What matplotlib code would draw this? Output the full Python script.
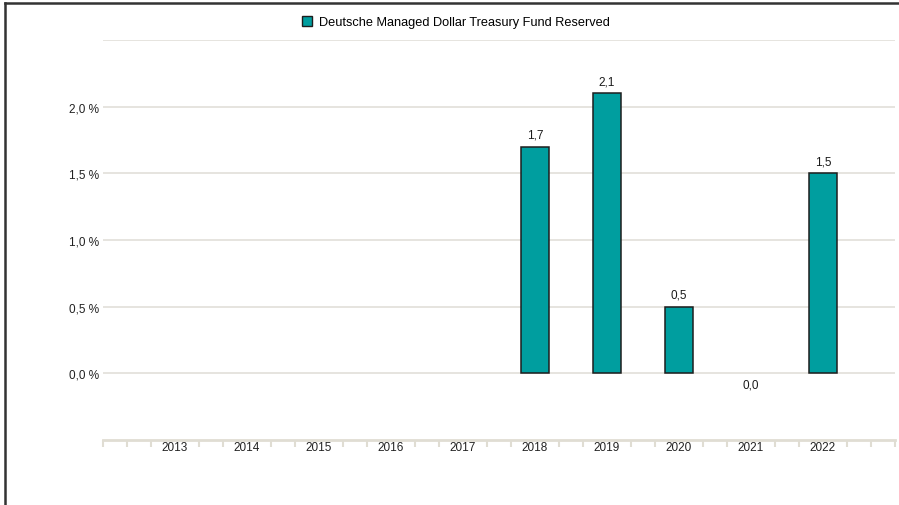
import numpy as np
import matplotlib.pyplot as plt
from matplotlib.patches import Patch
from matplotlib.lines import Line2D

plt.rcParams['font.family'] = ['Liberation Sans', 'DejaVu Sans']

# Data
years = ['2013', '2014', '2015', '2016', '2017', '2018', '2019', '2020', '2021', '2022']
values = [None, None, None, None, None, 1.7, 2.1, 0.5, 0.0, 1.5]
series_name = 'Deutsche Managed Dollar Treasury Fund Reserved'

bar_color = '#009e9f'
grid_color = '#e2dfd9'
axis_color = '#e0ddd3'

fig = plt.figure(figsize=(8.99, 5.06), dpi=100)
ax = fig.add_axes([103 / 899, 1 - 441 / 506, (895 - 103) / 899, 400 / 506])

x = np.arange(1, len(years) + 1)
for xi, v in zip(x, values):
    if v is None:
        continue
    label = f'{v:.1f}'.replace('.', ',')
    if v > 0:
        ax.bar(xi, v, width=0.4, color=bar_color, edgecolor='#1e1e1e', linewidth=1.1, zorder=3)
        ax.annotate(label, (xi, v), xytext=(0, 4.5), textcoords='offset points',
                    ha='center', va='bottom', fontsize=8.5, color='#1a1a1a')
    else:
        ax.annotate(label, (xi, v), xytext=(0, -4), textcoords='offset points',
                    ha='center', va='top', fontsize=8.5, color='#1a1a1a')

ax.set_xlim(0, 11)
ax.set_ylim(-0.5, 2.5)

# horizontal gridlines
for gy in [0, 0.5, 1.0, 1.5, 2.0, 2.5]:
    ax.axhline(gy, color=grid_color, linewidth=1.2, zorder=1)

ax.set_yticks([0, 0.5, 1.0, 1.5, 2.0])
ax.set_yticklabels([f'{t:.1f} %'.replace('.', ',') for t in [0, 0.5, 1.0, 1.5, 2.0]])
ax.tick_params(axis='y', length=0, pad=3, labelsize=8.5, labelcolor='#222222')

ax.set_xticks(x)
ax.set_xticklabels(years)
minor = [k / 3 for k in range(0, 34) if k % 3 != 0 or k in (0, 33)]
ax.set_xticks(minor, minor=True)
ax.tick_params(axis='x', which='major', length=0, pad=1, labelsize=8.5, labelcolor='#222222')
ax.tick_params(axis='x', which='minor', length=5, width=1.5, color=axis_color, direction='out')

for side in ['left', 'top', 'right']:
    ax.spines[side].set_visible(False)
ax.spines['bottom'].set_color(axis_color)
ax.spines['bottom'].set_linewidth(2)

# legend
handle = Patch(facecolor=bar_color, edgecolor='#1e1e1e', linewidth=1.0)
fig.legend([handle], [series_name], loc='center', bbox_to_anchor=(0.507, 1 - 23 / 506),
           frameon=False, fontsize=9.2, handlelength=0.8, handleheight=0.8, handletextpad=0.5)

# outer frame on left and top
fig.add_artist(Line2D([4.5 / 899, 4.5 / 899], [0, 1 - 3.5 / 506], color='#333333', linewidth=1.8))
fig.add_artist(Line2D([4.5 / 899, 1], [1 - 3.5 / 506, 1 - 3.5 / 506], color='#333333', linewidth=1.8))

fig.savefig('out.png', dpi=100)
